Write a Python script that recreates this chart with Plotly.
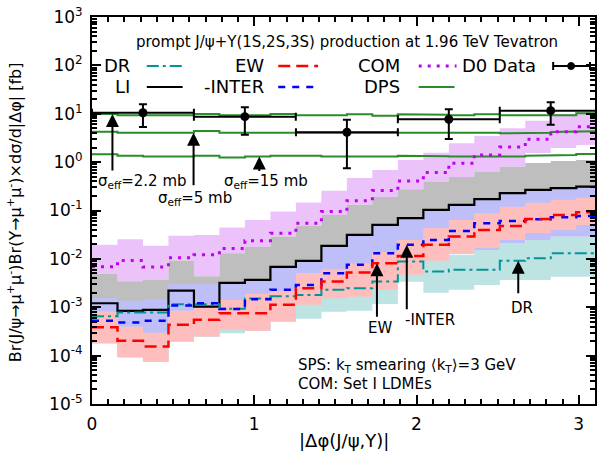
import numpy as np
import plotly.graph_objects as go

FONT = "DejaVu Sans"
PI = np.pi
NBIN = 20
bin_edges = [i * PI / NBIN for i in range(NBIN + 1)]

# ---- DPS (three sigma_eff values) ----
dps_s22 = [9.9, 9.3, 9.3, 9.3, 9.9, 9.3, 9.3, 9.9, 9.3, 9.3, 9.8, 9.1, 9.8, 9.5, 9.3, 9.8, 9.3, 9.0, 9.3, 10.2]
dps_s5 = [4.27, 4.07, 4.07, 4.07, 4.41, 4.07, 4.07, 4.07, 4.07, 4.07, 4.07, 4.07, 4.2, 4.07, 4.07, 4.07, 3.95, 4.07, 4.21, 4.35]
dps_s15 = [1.46, 1.36, 1.30, 1.30, 1.36, 1.24, 1.30, 1.36, 1.36, 1.30, 1.33, 1.30, 1.36, 1.33, 1.30, 1.30, 1.30, 1.36, 1.40, 1.47]

# ---- D0 data ----
d0_x = [0.314, 0.942, 1.571, 2.199, 2.827]
d0_xerr = [0.314, 0.314, 0.314, 0.314, 0.314]
d0_y = [10.5, 8.7, 4.15, 7.7, 11.6]
d0_yerr = [5.2, 5.0, 3.4, 4.7, 5.7]

# ---- COM ----
com = [0.0069, 0.0093, 0.0068, 0.0105, 0.0121, 0.0164, 0.0236, 0.0339, 0.0547, 0.095,
       0.160, 0.258, 0.409, 0.607, 0.949, 1.41, 2.06, 2.96, 4.26, 5.4]
com_hi = [0.0195, 0.0255, 0.0186, 0.0299, 0.0313, 0.0443, 0.064, 0.095, 0.146, 0.255,
          0.472, 0.69, 1.11, 1.57, 2.45, 3.47, 5.0, 7.2, 9.9, 11.0]
com_lo = [0.0049, 0.00343, 0.00368, 0.0093, 0.00435, 0.0131, 0.0176, 0.0289, 0.048, 0.0812,
          0.131, 0.191, 0.276, 0.39, 0.495, 0.627, 0.80, 1.55, 1.96, 2.27]

# ---- LI ----
li = [0.00121, 0.000843, 0.000884, 0.00221, 0.00103, 0.00319, 0.00368, 0.00684, 0.0091, 0.0186,
      0.0313, 0.0503, 0.0693, 0.103, 0.131, 0.172, 0.228, 0.267, 0.289, 0.312]
li_hi = [0.0049, 0.00343, 0.00368, 0.0093, 0.00435, 0.0131, 0.0176, 0.0289, 0.048, 0.0812,
         0.131, 0.191, 0.276, 0.39, 0.495, 0.627, 0.80, 0.96, 1.06, 1.11]
li_lo = [0.00121, 0.000843, 0.000884, 0.00221, 0.00103, 0.00319, 0.00368, 0.00684, 0.0091, 0.0186,
         0.0313, 0.0503, 0.0693, 0.103, 0.131, 0.172, 0.228, 0.267, 0.289, 0.312]

# ---- EW-INTER ----
inter = [0.000523, 0.000483, 0.000523, 0.00109, 0.00121, 0.000915, 0.00147, 0.00229, 0.0029, 0.00507,
         0.00752, 0.0131, 0.0195, 0.0247, 0.0379, 0.0547, 0.061, 0.0662, 0.0728, 0.0774]
inter_hi = [0.00154, 0.00137, 0.00147, 0.0030, 0.0030, 0.00319, 0.00368, 0.00684, 0.0091, 0.0186,
            0.0313, 0.0503, 0.0693, 0.103, 0.131, 0.172, 0.228, 0.267, 0.289, 0.312]
inter_lo = [0.000181, 0.0000924, 0.0000745, 0.000195, 0.000248, 0.000341, 0.000325, 0.000506, 0.00112, 0.00154,
            0.00164, 0.00229, 0.00468, 0.0092, 0.0127, 0.0153, 0.0214, 0.0247, 0.0285, 0.0285]

# ---- EW ----
ew = [0.000388, 0.000202, 0.000154, 0.000433, 0.000549, 0.000755, 0.000755, 0.00112, 0.00247, 0.00339,
      0.00521, 0.00814, 0.0115, 0.0195, 0.0289, 0.0397, 0.048, 0.0671, 0.0812, 0.0922]
ew_hi = [0.000804, 0.000394, 0.000296, 0.000843, 0.00112, 0.00142, 0.00189, 0.00211, 0.00507, 0.00593,
         0.0079, 0.0139, 0.0247, 0.0437, 0.064, 0.088, 0.119, 0.144, 0.166, 0.183]
ew_lo = [0.000181, 0.0000924, 0.0000745, 0.000195, 0.000248, 0.000341, 0.000325, 0.000506, 0.00112, 0.00154,
         0.00164, 0.00229, 0.00468, 0.0092, 0.0127, 0.0168, 0.0247, 0.0344, 0.0397, 0.0503]

# ---- DR ----
dr = [0.000648, 0.000778, 0.000778, 0.00116, 0.00116, 0.000935, 0.00151, 0.00169, 0.0018, 0.00229,
      0.00247, 0.00339, 0.0088, 0.00547, 0.00593, 0.00593, 0.0091, 0.0103, 0.0131, 0.0131]
dr_hi = [0.000804, 0.000394, 0.000296, 0.000843, 0.00112, 0.00142, 0.00189, 0.00211, 0.00507, 0.00593,
         0.0079, 0.0139, 0.0247, 0.0105, 0.0121, 0.0153, 0.0214, 0.0247, 0.0285, 0.0285]
dr_lo = [0.000181, 0.0000924, 0.0000745, 0.000195, 0.000248, 0.000291, 0.000325, 0.000506, 0.000576, 0.000804,
         0.000843, 0.00117, 0.00335, 0.00199, 0.00229, 0.0029, 0.00368, 0.00368, 0.00426, 0.00426]

y_tick_exps = [-5, -4, -3, -2, -1, 0, 1, 2, 3]
x_tick_vals = [0, 1, 2, 3]

C_COM_BAND = "#EBC3FA"
C_LI_BAND = "#BEBEBE"
C_INT_BAND = "#BEBEF8"
C_DR_BAND = "#BDE3E3"
C_EW_BAND = "#FFBEBE"
C_DR = "#009696"
C_EW = "#FF0000"
C_INT = "#0000FF"
C_COM = "#C000F0"
C_DPS = "#2A8C2A"


def step(vals):
    xs, ys = [], []
    for i, v in enumerate(vals):
        xs += [bin_edges[i], bin_edges[i + 1]]
        ys += [v, v]
    return xs, ys


def band(lo, hi, color):
    xh, yh = step(hi)
    xl, yl = step(lo)
    return go.Scatter(x=xh + xl[::-1], y=yh + yl[::-1], mode="lines", fill="toself",
                      fillcolor=color, line=dict(width=0, color=color),
                      hoverinfo="skip", showlegend=False)


def line(vals, color, width=2, dash="solid"):
    xs, ys = step(vals)
    return go.Scatter(x=xs, y=ys, mode="lines", line=dict(color=color, width=width, dash=dash),
                      hoverinfo="skip", showlegend=False)


fig = go.Figure()
fig.add_trace(band(com_lo, com_hi, C_COM_BAND))
fig.add_trace(band(li_lo, li_hi, C_LI_BAND))
fig.add_trace(band(inter_lo, inter_hi, C_INT_BAND))
fig.add_trace(band(dr_lo, dr_hi, C_DR_BAND))
fig.add_trace(band(ew_lo, ew_hi, C_EW_BAND))

for d in (dps_s22, dps_s5, dps_s15):
    fig.add_trace(line(d, C_DPS, 2))
fig.add_trace(line(li, "black", 2.2))
fig.add_trace(line(dr, C_DR, 2, "12px,4px,3px,4px"))
fig.add_trace(line(inter, C_INT, 2.5, "7px,7px"))
fig.add_trace(line(ew, C_EW, 2.5, "12px,6px"))
fig.add_trace(line(com, C_COM, 3, "3px,6px"))

fig.add_trace(go.Scatter(
    x=d0_x, y=d0_y, mode="markers",
    marker=dict(color="black", size=9, symbol="circle"),
    error_y=dict(type="data", array=d0_yerr, color="black", thickness=2, width=4),
    error_x=dict(type="data", array=d0_xerr, color="black", thickness=2, width=4),
    showlegend=False, hoverinfo="skip"))

# ---- layout helpers (pixel -> paper) ----
L, R, T, B = 92, 597, 17, 404


def P(px, py):
    return (px - L) / (R - L), (B - py) / (B - T)


annotations = []
shapes = []


def text(px, py, s, size, anchor="center"):
    x, y = P(px, py)
    annotations.append(dict(x=x, y=y, xref="paper", yref="paper", text=s, showarrow=False,
                            xanchor=anchor, yanchor="middle",
                            font=dict(family=FONT, size=size, color="black")))


def seg(x0, y0, x1, y1, color, width=2, dash="solid"):
    a0, b0 = P(x0, y0)
    a1, b1 = P(x1, y1)
    shapes.append(dict(type="line", xref="paper", yref="paper", x0=a0, y0=b0, x1=a1, y1=b1,
                       line=dict(color=color, width=width, dash=dash)))


text(348, 42, "prompt J/ψ+Υ(1S,2S,3S) production at 1.96 TeV Tevatron", 15)

# legend
LEG = 18
text(132, 66, "DR", LEG, "right")
seg(147, 66, 183, 66, C_DR, 2, "12px,4px,3px,4px")
text(267, 66, "EW", LEG, "right")
seg(279, 66, 319, 66, C_EW, 2.5, "12px,6px")
text(403, 66, "COM", LEG, "right")
seg(420, 66, 458, 66, C_COM, 3, "3px,6px")
text(540, 66, "D0 Data", LEG, "right")
seg(555, 66, 592, 66, "black", 2)
seg(555, 62, 555, 70, "black", 2)
seg(592, 62, 592, 70, "black", 2)
cx0, cy0 = P(569.5, 69.5)
cx1, cy1 = P(576.5, 62.5)
shapes.append(dict(type="circle", xref="paper", yref="paper", x0=cx0, y0=cy0, x1=cx1, y1=cy1,
                   fillcolor="black", line=dict(color="black", width=1)))
text(132, 87, "LI", LEG, "right")
seg(147, 87, 183, 87, "black", 2)
text(267, 87, "-INTER", LEG, "right")
seg(279, 87, 319, 87, C_INT, 2.5, "7px,7px")
text(403, 87, "DPS", LEG, "right")
seg(420, 87, 456, 87, C_DPS, 2)

# arrows with tips on the curves they label
def arrow(xd, val, length):
    annotations.append(dict(x=xd, y=np.log10(val), xref="x", yref="y", ax=0, ay=length,
                            axref="pixel", ayref="pixel", text="", showarrow=True,
                            arrowhead=2, arrowsize=1.3, arrowwidth=2, arrowcolor="black",
                            standoff=0))


arrow(0.126, dps_s22[0], 58)
arrow(0.626, dps_s5[3], 54)
arrow(1.031, dps_s15[6], 16)
text(143, 181, "σ<sub>eff</sub>=2.2 mb", 15)
text(195, 198, "σ<sub>eff</sub>=5 mb", 15)
text(267, 181, "σ<sub>eff</sub>=15 mb", 15)

arrow(1.756, ew[11], 55)
arrow(1.940, inter[12], 66)
arrow(2.627, dr[16], 34)
text(381, 328, "EW", 15)
text(431, 320, "-INTER", 15)
text(524, 308, "DR", 15)

text(297, 365, "SPS: k<sub>T</sub> smearing ⟨k<sub>T</sub>⟩=3 GeV", 15, "left")
text(297, 384, "COM: Set I LDMEs", 15, "left")

# y-axis title
yx, yy = P(14, 212)
annotations.append(dict(x=yx, y=yy, xref="paper", yref="paper", textangle=-90, showarrow=False,
                        text="Br(J/ψ→μ<sup>+</sup>μ<sup>-</sup>)Br(Υ→μ<sup>+</sup>μ<sup>-</sup>)×dσ/d|Δφ| [fb]",
                        xanchor="center", yanchor="middle",
                        font=dict(family=FONT, size=16, color="black")))
# x-axis title
text(345, 440, "|Δφ(J/ψ,Υ)|", 18)

minor_y = [k * 10.0 ** e for e in range(-5, 3) for k in range(2, 10)]

fig.update_layout(
    width=600, height=453,
    margin=dict(l=L, r=600 - R, t=T, b=453 - B),
    paper_bgcolor="white", plot_bgcolor="white",
    showlegend=False,
    annotations=annotations, shapes=shapes,
    xaxis=dict(range=[0, 3.1], tickmode="array", tickvals=x_tick_vals,
               ticktext=[str(v) for v in x_tick_vals],
               ticks="inside", ticklen=9, tickwidth=2, tickcolor="black",
               showline=True, linewidth=2, linecolor="black", mirror="allticks",
               showgrid=False, zeroline=False, ticklabelstandoff=4,
               tickfont=dict(family=FONT, size=17, color="black"),
               minor=dict(dtick=0.1, tick0=0, ticks="inside", ticklen=5, tickwidth=1.5,
                          tickcolor="black", showgrid=False)),
    yaxis=dict(type="log", range=[-5, 3], tickmode="array",
               tickvals=[10.0 ** e for e in y_tick_exps],
               ticktext=[f"10<sup>{e}</sup>" for e in y_tick_exps],
               ticks="inside", ticklen=9, tickwidth=2, tickcolor="black",
               showline=True, linewidth=2, linecolor="black", mirror="allticks",
               showgrid=False, zeroline=False, ticklabelstandoff=4,
               tickfont=dict(family=FONT, size=17, color="black"),
               minor=dict(tickmode="array", tickvals=minor_y, ticks="inside", ticklen=5,
                          tickwidth=1.5, tickcolor="black", showgrid=False)),
)

fig.write_html("out.html")
